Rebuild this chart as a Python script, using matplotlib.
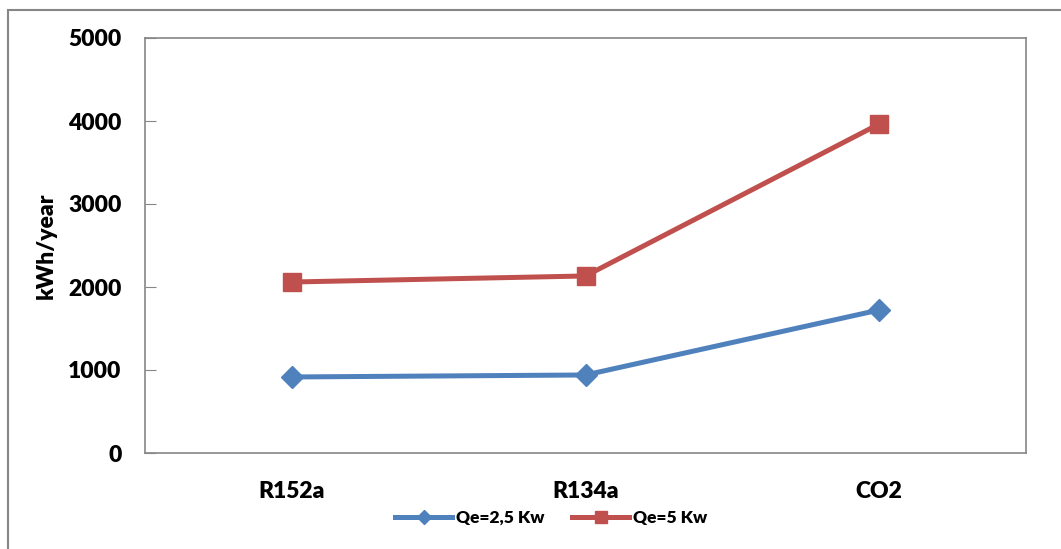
import matplotlib.pyplot as plt
from matplotlib.patches import Rectangle

categories = ["R152a", "R134a", "CO2"]
qe_25 = [916, 940, 1723]
qe_5 = [2060, 2133, 3964]
yticks = [0, 1000, 2000, 3000, 4000, 5000]

plt.rcParams['font.family'] = ['Lato', 'DejaVu Sans']

fig = plt.figure(figsize=(10.61, 5.49), dpi=100)
ax = fig.add_axes([145/1061, 1 - 453/549, 881/1061, 415/549])

x = [i + 0.5 for i in range(len(categories))]
ax.plot(x, qe_25, color='#4F81BD', lw=3.6, marker='D', ms=11,
        label='Qe=2,5 Kw')
ax.plot(x, qe_5, color='#C0504D', lw=3.6, marker='s', ms=13,
        label='Qe=5 Kw')

ax.set_xlim(0, 3)
ax.set_ylim(0, 5000)
ax.set_xticks(x)
ax.set_xticklabels(categories, fontsize=16.5, fontweight='heavy')
ax.set_yticks(yticks)
ax.set_yticklabels([str(v) for v in yticks], fontsize=16.5, fontweight='heavy')
ax.tick_params(axis='x', length=0, pad=20)
ax.tick_params(axis='y', direction='in', length=8, color='#868686', pad=17)
for s in ax.spines.values():
    s.set_color('#868686')
    s.set_linewidth(1.2)
ax.set_ylabel('kWh/year', fontsize=16.5, fontweight='heavy', labelpad=8)

fig.legend(loc='center', bbox_to_anchor=(551/1061, 1 - 518/549), ncol=2,
           frameon=False, prop={'size': 12.5, 'weight': 'heavy'},
           handlelength=3.3, columnspacing=1.6, handletextpad=0.2,
           markerscale=0.65)

fig.patches.append(Rectangle((8/1061, -0.05), 1.2, 1 - 10/549 + 0.05,
                             transform=fig.transFigure, fill=False,
                             edgecolor='#868686', lw=1.5))

fig.savefig('out.png', dpi=100)
